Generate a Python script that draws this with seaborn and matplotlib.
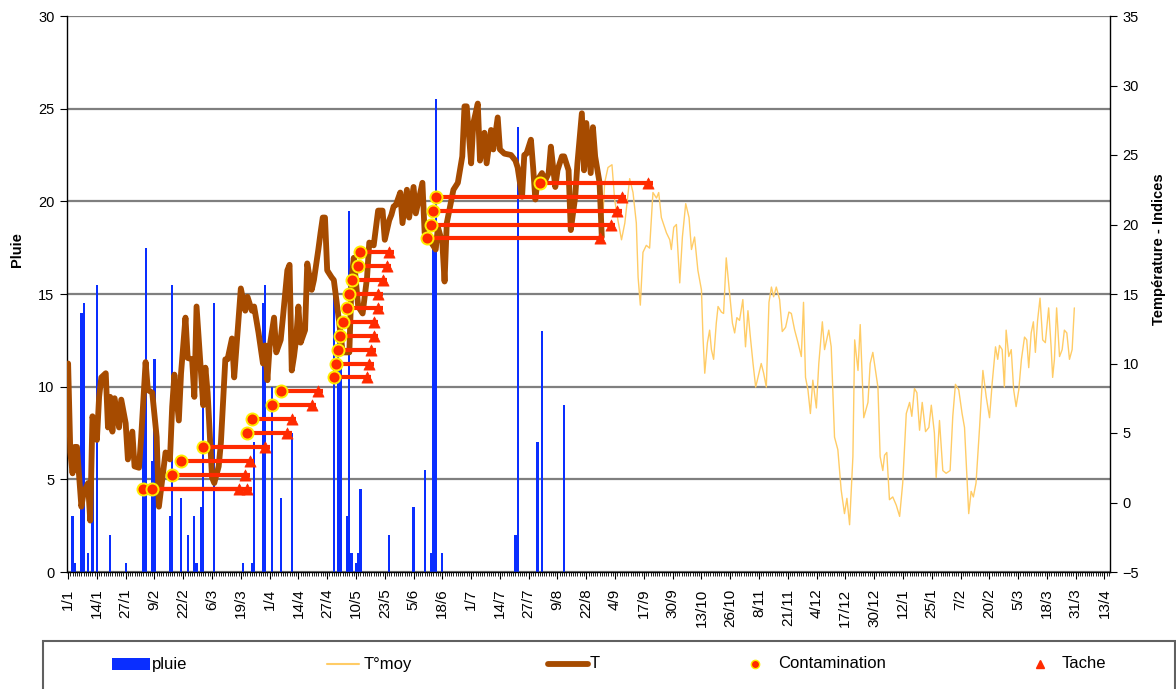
import numpy as np
import matplotlib
matplotlib.use("Agg")
import matplotlib.pyplot as plt
import seaborn as sns
from matplotlib.lines import Line2D
from matplotlib.patches import Rectangle

sns.set_theme(style="ticks")
plt.rcParams['font.family'] = ['Liberation Sans', 'DejaVu Sans']

# ---------------- data ----------------
tick_labels = ["1/1", "14/1", "27/1", "9/2", "22/2", "6/3", "19/3", "1/4", "14/4", "27/4",
               "10/5", "23/5", "5/6", "18/6", "1/7", "14/7", "27/7", "9/8", "22/8", "4/9",
               "17/9", "30/9", "13/10", "26/10", "8/11", "21/11", "4/12", "17/12", "30/12",
               "12/1", "25/1", "7/2", "20/2", "5/3", "18/3", "31/3", "13/4"]

rain_day = [2, 3, 6, 7, 9, 11, 13, 19, 26, 34, 35, 38, 39, 46, 47, 51, 54, 57, 58, 60,
            61, 66, 79, 83, 84, 88, 89, 92, 96, 101, 120, 122, 123, 126, 127, 128, 130, 131, 132, 145,
            156, 161, 164, 165, 166, 169, 202, 203, 212, 214, 224]
rain_mm = [3.0, 0.5, 14.0, 14.5, 1.0, 7.0, 15.5, 2.0, 0.5, 10.5, 17.5, 6.0, 11.5, 3.0, 15.5, 4.0, 2.0, 3.0, 0.5, 3.5,
           9.0, 14.5, 0.5, 0.5, 7.0, 14.5, 15.5, 10.0, 4.0, 7.5, 15.5, 12.5, 11.0, 3.0, 19.5, 1.0, 0.5, 1.0, 4.5, 2.0,
           3.5, 5.5, 1.0, 17.5, 25.5, 1.0, 2.0, 24.0, 7.0, 13.0, 9.0]

t_day = [0, 1, 2, 3, 4, 6, 7, 9, 10, 11,
         13, 14, 15, 17, 18, 19, 20, 21, 23, 24,
         26, 27, 29, 30, 32, 33, 35, 36, 38, 40,
         41, 43, 44, 46, 47, 48, 50, 51, 53, 54,
         56, 57, 58, 60, 61, 62, 63, 65, 66, 68,
         69, 71, 72, 74, 75, 77, 78, 80, 81, 83,
         84, 86, 88, 89, 90, 91, 93, 94, 96, 97,
         99, 100, 101, 102, 103, 104, 105, 107, 108, 110,
         111, 113, 114, 115, 116, 117, 119, 120, 122, 124,
         127, 128, 129, 131, 133, 135, 136, 138, 140, 142,
         143, 145, 146, 147, 148, 150, 151, 153, 154, 156,
         157, 160, 161, 162, 164, 166, 167, 169, 170, 171,
         174, 176, 178, 179, 180, 182, 183, 185, 186, 188,
         189, 191, 192, 194, 195, 197, 200, 202, 203, 205,
         206, 207, 209, 210, 211, 212, 214, 215, 217, 218,
         220, 221, 223, 224, 226, 227, 229, 230, 232, 233,
         234, 236, 237, 238, 240, 241]
t_val = [10.0, 3.6, 2.1, 4.0, 4.0, -0.3, 0.7, 1.4, -1.3, 6.2,
         4.5, 7.6, 9.0, 9.3, 5.4, 7.6, 5.1, 7.5, 5.4, 7.4,
         5.7, 3.1, 5.1, 2.6, 2.5, 4.7, 10.1, 8.1, 7.9, 4.7,
         -0.3, 2.3, 3.6, 3.1, 6.9, 9.2, 5.9, 9.3, 13.3, 10.4,
         10.3, 7.6, 14.1, 9.3, 7.0, 9.7, 7.9, 1.8, 1.4, 2.6,
         4.3, 10.3, 10.3, 11.8, 9.0, 13.3, 15.4, 13.8, 14.8, 13.8,
         14.1, 12.2, 10.0, 11.3, 8.8, 11.2, 13.3, 10.8, 11.7, 13.3,
         16.7, 17.1, 9.5, 10.5, 11.8, 14.1, 11.5, 12.4, 17.2, 15.3,
         16.0, 18.2, 19.4, 20.5, 20.5, 16.7, 16.2, 16.0, 13.5, 10.8,
         10.8, 16.0, 17.6, 14.1, 13.6, 16.2, 18.7, 18.5, 21.0, 21.0,
         18.9, 20.3, 20.7, 21.3, 21.4, 22.3, 20.1, 22.5, 20.5, 22.7,
         20.8, 23.0, 19.4, 18.9, 18.7, 18.2, 19.8, 18.7, 15.9, 20.1,
         22.5, 23.0, 24.9, 28.5, 28.5, 24.4, 27.3, 28.7, 24.6, 26.6,
         24.4, 26.8, 25.4, 27.7, 25.4, 25.1, 25.0, 24.6, 24.1, 22.0,
         25.0, 25.1, 26.1, 24.1, 21.8, 23.2, 23.7, 23.0, 23.7, 25.6,
         22.7, 23.9, 24.9, 24.9, 23.9, 19.6, 22.0, 24.4, 28.0, 23.9,
         27.3, 23.7, 27.0, 24.9, 23.0, 19.1]

tmoy_tail_day = [242.3, 243.8, 245.6, 246.8, 248.3, 249.9, 251.4, 253.6, 255.1, 256.6,
                 257.4, 258.4, 259.6, 261.1, 262.6, 264.1, 265.7, 266.7, 267.9, 270.2,
                 271.7, 272.4, 273.5, 274.7, 276.2, 277.4, 278.9, 280.4, 281.5, 282.9,
                 284.4, 286.0, 286.7, 287.5, 288.7, 289.7, 290.5, 291.5, 292.7, 293.5,
                 295.0, 296.0, 297.2, 298.7, 300.0, 301.0, 302.0, 303.2, 304.7, 305.9,
                 307.0, 308.1, 309.3, 310.5, 312.0, 313.0, 314.1, 315.3, 316.5, 317.6,
                 318.6, 319.8, 321.3, 322.5, 324.0, 325.5, 326.6, 328.1, 329.6, 331.1,
                 332.1, 333.0, 334.1, 335.2, 336.3, 337.9, 339.0, 340.6, 341.6, 343.5,
                 344.6, 346.1, 347.6, 349.1, 350.6, 351.7, 352.9, 354.4, 355.2, 356.7,
                 357.7, 359.3, 361.2, 362.2, 363.4, 365.7, 366.7, 367.9, 368.7, 369.7,
                 370.9, 372.4, 374.0, 375.5, 376.9, 378.5, 380.0, 381.0, 382.2, 383.3,
                 384.5, 385.7, 387.2, 388.7, 389.8, 391.2, 392.0, 393.5, 395.0, 396.5,
                 398.3, 399.5, 400.7, 402.2, 403.7, 404.8, 405.6, 406.7, 407.8, 408.8,
                 410.0, 411.6, 413.1, 414.6, 416.1, 417.3, 418.8, 419.8, 420.6, 421.8,
                 422.8, 423.6, 424.8, 425.9, 427.0, 428.1, 429.3, 430.5, 431.9, 432.9,
                 433.8, 434.9, 435.9, 436.8, 437.8, 438.9, 440.1, 441.3, 442.8, 443.9,
                 444.6, 445.4, 446.4, 447.7, 448.9, 449.9, 451.0, 452.2, 453.4, 454.4]
tmoy_tail_val = [23.0, 24.1, 24.3, 21.8, 20.3, 18.9, 20.1, 23.3, 22.3, 20.1,
                 16.2, 14.2, 18.0, 18.5, 18.3, 22.3, 21.9, 22.3, 20.5, 19.4,
                 18.9, 18.2, 19.8, 20.0, 15.8, 19.1, 21.5, 20.5, 18.2, 19.1,
                 16.7, 15.3, 11.9, 9.3, 11.5, 12.4, 11.0, 10.3, 12.9, 14.1,
                 13.7, 13.6, 17.6, 15.1, 12.9, 12.2, 13.3, 13.1, 14.6, 11.2,
                 13.8, 11.9, 10.0, 8.3, 9.3, 10.0, 9.3, 8.3, 14.4, 15.5,
                 14.8, 15.5, 14.6, 12.3, 12.6, 13.7, 13.6, 12.4, 11.5, 10.5,
                 14.4, 9.0, 8.1, 6.4, 8.8, 6.8, 10.0, 13.0, 11.0, 12.4,
                 11.2, 4.7, 3.8, 0.9, -0.8, 0.3, -1.6, 3.3, 11.7, 9.5,
                 12.8, 6.1, 7.2, 10.0, 10.8, 8.3, 3.3, 2.3, 3.4, 3.6,
                 0.2, 0.4, -0.2, -1.0, 1.4, 6.4, 7.2, 6.2, 8.2, 7.9,
                 5.2, 7.2, 5.1, 5.4, 7.0, 5.0, 1.8, 5.9, 2.3, 2.1,
                 2.3, 6.2, 8.5, 8.1, 6.4, 5.4, 2.8, -0.8, 0.8, 0.4,
                 1.4, 5.4, 9.5, 7.6, 6.1, 8.6, 11.2, 10.3, 11.3, 11.0,
                 8.3, 12.4, 10.5, 11.0, 8.1, 6.9, 8.1, 10.3, 11.9, 11.7,
                 9.7, 12.2, 13.0, 10.8, 13.1, 14.7, 11.7, 11.5, 14.0, 11.2,
                 9.0, 10.3, 14.0, 10.5, 11.0, 12.4, 12.2, 10.3, 11.0, 14.0]

contam_day = [34, 38, 47, 51, 61, 81, 83, 92, 96,
              120, 121, 122, 123, 124, 126, 127, 128, 131, 132,
              162, 164, 165, 166, 213]
tache_day = [77, 81, 80, 82, 89, 99, 101, 110, 113,
             135, 136, 137, 138, 138, 140, 140, 142, 144, 145,
             240, 245, 248, 250, 262]
index_val = [1, 1, 2, 3, 4, 5, 6, 7, 8,
             9, 10, 11, 12, 13, 14, 15, 16, 17, 18,
             19, 20, 21, 22, 23]

# T°moy follows T over the first part, then continues alone
tmoy_day = t_day + tmoy_tail_day
tmoy_val = t_val + tmoy_tail_val

# ---------------- style ----------------
BLUE = "#0A2EFF"
TMOY = "#FFCC66"
TCOL = "#A64B00"
RED = "#FF2A00"
YEL = "#FFEE00"
W, H = 1176, 689

fig = plt.figure(figsize=(W / 100, H / 100), dpi=100)
fig.patch.set_facecolor("white")
ax = fig.add_axes([67 / W, 1 - 572 / H, (1110 - 67) / W, (572 - 16) / H])
ax2 = ax.twinx()

sns.barplot(x=rain_day, y=rain_mm, native_scale=True, width=1.0, color=BLUE,
            saturation=1, errorbar=None, linewidth=0, ax=ax)

sns.lineplot(x=tmoy_day, y=tmoy_val, ax=ax2, color=TMOY, linewidth=1.0,
             estimator=None, sort=False, zorder=2)
sns.lineplot(x=t_day, y=t_val, ax=ax2, color=TCOL, linewidth=4.2,
             estimator=None, sort=False, zorder=3)
ax2.hlines(index_val, contam_day, np.array(tache_day) + 2, color=RED,
           linewidth=3.0, zorder=4)
sns.scatterplot(x=tache_day, y=index_val, ax=ax2, marker="^", s=65, color=RED,
                edgecolor=RED, linewidth=0.5, zorder=5)
sns.scatterplot(x=contam_day, y=index_val, ax=ax2, marker="o", s=75, color=RED,
                edgecolor=YEL, linewidth=1.4, zorder=6)

# ---------------- axes ----------------
ax.set_xlim(-0.5, 470.5)
ax.set_ylim(0, 30)
ax2.set_ylim(-5, 35)
ax.set_yticks(range(0, 31, 5))
ax2.set_yticks(range(-5, 36, 5))
ax.set_xticks(range(0, 469, 13))
ax.set_xticklabels(tick_labels, rotation=90)
ax.set_xticks(range(0, 471), minor=True)
ax.set_xlabel("")
ax2.set_xlabel("")

ax.set_axisbelow(True)
ax.yaxis.grid(True, color="#7F7F7F", linewidth=1.6)
ax.xaxis.grid(False)
ax2.grid(False)

for a in (ax, ax2):
    for s in a.spines.values():
        s.set_visible(False)
ax.spines["left"].set_visible(True)
ax.spines["bottom"].set_visible(True)
ax2.spines["right"].set_visible(True)
for s in (ax.spines["left"], ax.spines["bottom"], ax2.spines["right"]):
    s.set_color("black")
    s.set_linewidth(1.0)

ax.tick_params(axis="x", which="major", length=5, width=0.8, color="black",
               labelsize=11, labelcolor="black", pad=7)
ax.tick_params(axis="x", which="minor", length=3, width=0.6, color="black")
ax.tick_params(axis="y", which="major", length=5, width=0.8, color="black",
               labelsize=10.5, labelcolor="black", left=True, pad=4)
ax2.tick_params(axis="y", which="major", length=5, width=0.8, color="black",
                labelsize=10.5, labelcolor="black", right=True, pad=4)

ax.set_ylabel("Pluie", fontsize=10.5, fontweight="bold", color="black")
ax.yaxis.set_label_coords((24 - 67) / 1043, 0.58)
ax2.set_ylabel("Température - Indices", fontsize=10.5, fontweight="bold", color="black")
ax2.yaxis.set_label_coords((1152 - 67) / 1043, 0.58)

# ---------------- legend (Excel-like box at the bottom) ----------------
def fx(x):
    return x / W


def fy(y):
    return 1 - y / H


fig.add_artist(Rectangle((fx(43), fy(700)), fx(1175) - fx(43), fy(641) - fy(700),
                         transform=fig.transFigure, facecolor="white",
                         edgecolor="#606060", linewidth=1.5))
ly = 664
fig.add_artist(Rectangle((fx(112), fy(670)), fx(150) - fx(112), fy(658) - fy(670),
                         transform=fig.transFigure, facecolor=BLUE, edgecolor="none"))
fig.add_artist(Line2D([fx(327), fx(359)], [fy(ly), fy(ly)], transform=fig.transFigure,
                      color=TMOY, linewidth=1.5))
fig.add_artist(Line2D([fx(548), fx(588)], [fy(ly), fy(ly)], transform=fig.transFigure,
                      color=TCOL, linewidth=4.2))
fig.add_artist(Line2D([fx(755)], [fy(ly)], transform=fig.transFigure, marker="o",
                      markersize=6, markerfacecolor=RED, markeredgecolor=YEL,
                      markeredgewidth=1.0, linestyle="none"))
fig.add_artist(Line2D([fx(1040)], [fy(ly)], transform=fig.transFigure, marker="^",
                      markersize=6, markerfacecolor=RED, markeredgecolor=RED,
                      linestyle="none"))
for tx, label in [(152, "pluie"), (364, "T°moy"), (590, "T"),
                  (778, "Contamination"), (1062, "Tache")]:
    fig.text(fx(tx), fy(ly), label, fontsize=12, color="black", ha="left", va="center")

fig.savefig("out.png", dpi=100, facecolor="white")
